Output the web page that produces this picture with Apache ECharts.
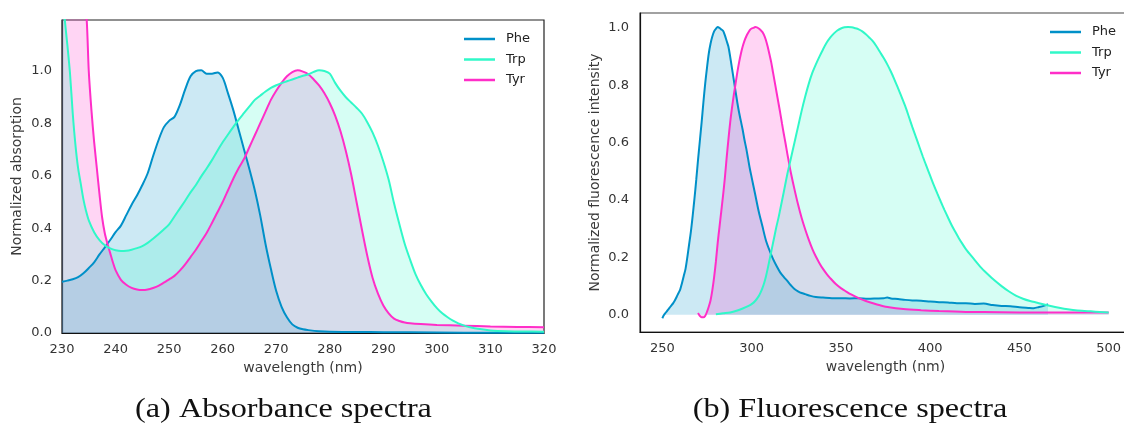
<!DOCTYPE html>
<html>
<head>
<meta charset="utf-8">
<script src="https://cdn.jsdelivr.net/npm/echarts@6/dist/echarts.min.js"></script>
<style>
  html, body { margin: 0; padding: 0; background: #ffffff; overflow: hidden; }
  /* the right panel's frame runs slightly past the page edge */
  #chart { width: 1132px; height: 423px; }
</style>
</head>
<body>
<div id="chart"></div>
<script>
// Amino acid spectra: [wavelength nm, normalized value]
const seriesNames = ['Phe', 'Trp', 'Tyr'];
const seriesColors = { Phe: '#0090c8', Trp: '#30f8c8', Tyr: '#ff2ec8' };

const absTicksX = [230, 240, 250, 260, 270, 280, 290, 300, 310, 320];
const flTicksX = [250, 300, 350, 400, 450, 500];
const yTicks = [0, 0.2, 0.4, 0.6, 0.8, 1.0];

const absPhe = [[230,0.196],[231,0.2],[232,0.205],[233,0.213],[234,0.228],[235,0.248],[236,0.27],[237,0.3],[238,0.327],[239,0.355],[240,0.385],[241,0.41],[242,0.45],[243,0.49],[244,0.525],[245,0.565],[246,0.61],[247,0.675],[248,0.735],[249,0.785],[250,0.81],[251,0.825],[252,0.87],[253,0.93],[254,0.98],[255,1.0],[256,1.003],[257,0.99],[258,0.99],[259,0.995],[260,0.975],[261,0.915],[262,0.85],[263,0.775],[264,0.7],[265,0.625],[266,0.545],[267,0.45],[268,0.34],[269,0.245],[270,0.16],[271,0.1],[272,0.06],[273,0.033],[274,0.02],[275,0.014],[276,0.011],[278,0.007],[280,0.005],[285,0.004],[290,0.003],[300,0.002],[310,0.001],[320,0.001]];

const absTrp = [[230,1.32],[230.5,1.2],[231,1.1],[231.5,0.99],[232,0.84],[232.5,0.72],[233,0.63],[233.5,0.57],[234,0.51],[234.5,0.465],[235,0.43],[236,0.385],[237,0.355],[238,0.335],[239,0.323],[240,0.316],[241,0.313],[242,0.314],[243,0.318],[244,0.324],[245,0.332],[246,0.344],[247,0.36],[248,0.377],[249,0.395],[250,0.415],[251,0.445],[252,0.475],[253,0.505],[254,0.537],[255,0.565],[256,0.598],[257,0.628],[258,0.66],[259,0.695],[260,0.728],[261,0.758],[262,0.787],[263,0.815],[264,0.84],[265,0.865],[266,0.89],[267,0.906],[268,0.922],[269,0.936],[270,0.946],[271,0.954],[272,0.961],[273,0.968],[274,0.975],[275,0.982],[276,0.988],[277,0.997],[278,1.003],[279,1.0],[280,0.99],[281,0.955],[282,0.925],[283,0.9],[284,0.88],[285,0.86],[286,0.838],[287,0.805],[288,0.765],[289,0.715],[290,0.655],[291,0.585],[292,0.495],[293,0.415],[294,0.34],[295,0.28],[296,0.225],[297,0.183],[298,0.148],[299,0.12],[300,0.095],[301,0.075],[302,0.06],[303,0.047],[304,0.037],[305,0.029],[306,0.023],[308,0.015],[310,0.01],[313,0.007],[316,0.006],[320,0.005]];

const absTyr = [[230,2.4],[231,2.1],[232,1.8],[233,1.55],[234,1.32],[234.6,1.2],[235,1.0],[235.5,0.85],[236,0.73],[236.5,0.63],[237,0.53],[237.5,0.44],[238,0.38],[238.5,0.34],[239,0.305],[239.5,0.27],[240,0.24],[241,0.203],[242,0.184],[243,0.172],[244,0.166],[245,0.164],[246,0.166],[247,0.172],[248,0.18],[249,0.192],[250,0.205],[251,0.218],[252,0.238],[253,0.262],[254,0.29],[255,0.318],[256,0.35],[257,0.382],[258,0.42],[259,0.46],[260,0.5],[261,0.545],[262,0.59],[263,0.63],[264,0.665],[265,0.71],[266,0.755],[267,0.8],[268,0.845],[269,0.89],[270,0.925],[271,0.955],[272,0.98],[273,0.996],[274,1.003],[275,0.998],[276,0.988],[277,0.968],[278,0.945],[279,0.915],[280,0.877],[281,0.83],[282,0.77],[283,0.695],[284,0.605],[285,0.5],[286,0.395],[287,0.295],[288,0.21],[289,0.15],[290,0.105],[291,0.075],[292,0.055],[293,0.046],[294,0.04],[295,0.037],[297,0.034],[300,0.031],[305,0.028],[310,0.025],[315,0.023],[320,0.022]];

const flPhe = [[250,-0.012],[251,0.0],[252,0.008],[253,0.016],[254,0.024],[255,0.032],[256,0.04],[257,0.05],[258,0.062],[259,0.075],[260,0.088],[261,0.11],[262,0.135],[263,0.16],[264,0.2],[265,0.245],[266,0.29],[267,0.345],[268,0.405],[269,0.47],[270,0.54],[271,0.605],[272,0.67],[273,0.74],[274,0.805],[275,0.86],[276,0.91],[277,0.945],[278,0.97],[279,0.988],[280,0.997],[281,1.003],[282,1.0],[283,0.995],[284,0.99],[285,0.975],[286,0.955],[287,0.935],[288,0.9],[289,0.86],[290,0.82],[291,0.78],[292,0.74],[293,0.705],[294,0.675],[295,0.645],[296,0.61],[297,0.58],[298,0.545],[299,0.51],[300,0.48],[302,0.42],[304,0.36],[306,0.31],[308,0.26],[310,0.225],[312,0.195],[314,0.17],[316,0.148],[318,0.132],[320,0.118],[322,0.103],[324,0.09],[326,0.082],[328,0.076],[330,0.072],[333,0.066],[336,0.062],[340,0.06],[345,0.058],[350,0.058],[355,0.057],[360,0.058],[365,0.056],[370,0.057],[374,0.058],[376,0.06],[378,0.057],[382,0.055],[386,0.052],[390,0.05],[395,0.049],[400,0.046],[405,0.044],[410,0.043],[415,0.04],[420,0.04],[425,0.038],[430,0.039],[435,0.034],[440,0.031],[445,0.03],[450,0.026],[455,0.024],[458,0.023],[461,0.027],[464,0.032],[466,0.037]];

const flTrp = [[280,0.002],[284,0.005],[288,0.008],[292,0.015],[295,0.022],[298,0.03],[300,0.037],[302,0.048],[304,0.065],[305,0.077],[306,0.092],[307,0.11],[308,0.133],[309,0.16],[310,0.19],[311,0.22],[312,0.25],[313,0.28],[314,0.31],[315,0.336],[316,0.366],[318,0.427],[320,0.49],[322,0.545],[324,0.6],[326,0.655],[328,0.71],[330,0.76],[332,0.805],[334,0.843],[336,0.873],[338,0.9],[340,0.925],[342,0.948],[344,0.966],[346,0.98],[348,0.991],[350,0.998],[352,1.002],[354,1.003],[356,1.002],[358,0.999],[360,0.995],[362,0.988],[364,0.978],[366,0.966],[368,0.953],[370,0.935],[372,0.915],[374,0.895],[376,0.873],[378,0.848],[380,0.82],[382,0.79],[384,0.76],[386,0.728],[388,0.692],[390,0.655],[392,0.62],[394,0.585],[396,0.55],[398,0.517],[400,0.485],[402,0.453],[404,0.423],[406,0.394],[408,0.366],[410,0.339],[412,0.313],[414,0.29],[416,0.268],[418,0.248],[420,0.229],[424,0.198],[428,0.168],[432,0.143],[436,0.12],[440,0.1],[444,0.082],[448,0.067],[452,0.056],[456,0.048],[460,0.042],[465,0.034],[470,0.027],[475,0.021],[480,0.017],[485,0.014],[490,0.012],[495,0.01],[500,0.008]];

const flTyr = [[270,0.006],[271,-0.004],[272,-0.009],[273,-0.009],[274,-0.004],[275,0.01],[276,0.028],[277,0.05],[278,0.085],[279,0.13],[280,0.185],[281,0.25],[282,0.305],[283,0.36],[284,0.415],[285,0.475],[286,0.545],[287,0.61],[288,0.67],[289,0.72],[290,0.765],[291,0.805],[292,0.845],[293,0.88],[294,0.91],[295,0.935],[296,0.955],[297,0.97],[298,0.982],[299,0.992],[300,0.998],[301,1.0],[302,1.003],[303,1.002],[304,0.998],[305,0.993],[306,0.986],[307,0.975],[308,0.958],[309,0.935],[310,0.908],[311,0.88],[312,0.845],[313,0.81],[314,0.775],[315,0.74],[316,0.705],[317,0.668],[318,0.632],[319,0.598],[320,0.562],[321,0.528],[322,0.495],[324,0.438],[326,0.385],[328,0.338],[330,0.298],[332,0.262],[334,0.23],[336,0.203],[338,0.18],[340,0.16],[342,0.143],[344,0.128],[347,0.108],[350,0.093],[353,0.081],[356,0.07],[360,0.058],[364,0.048],[368,0.04],[372,0.033],[377,0.026],[385,0.02],[395,0.016],[405,0.013],[420,0.01],[440,0.009],[460,0.008],[480,0.008],[500,0.008]];

const captions = ['(a) Absorbance spectra', '(b) Fluorescence spectra'];

const sans = 'DejaVu Sans';
const tickColor = '#333333';
const nameColor = '#3a3a3a';

function onTick(list, v) {
  return list.some(t => Math.abs(t - v) < 1e-6);
}

function makeSeries(name, data, axisIdx) {
  const c = seriesColors[name];
  return {
    type: 'line', name: name, data: data,
    xAxisIndex: axisIdx, yAxisIndex: axisIdx,
    showSymbol: false, symbol: 'none', smooth: 0.3,
    clip: true, silent: true,
    lineStyle: { color: c, width: 2 },
    itemStyle: { color: c },
    areaStyle: { color: c, opacity: 0.2 }
  };
}

function legendAt(left, top) {
  return {
    orient: 'vertical', left: left, top: top, padding: 0,
    icon: 'rect', itemWidth: 31, itemHeight: 2.5, itemGap: 6.5,
    selectedMode: false, data: seriesNames,
    textStyle: { fontFamily: sans, fontSize: 13, lineHeight: 14, color: '#222', padding: [0, 0, 0, 6] }
  };
}

function axisBase(gridIndex) {
  return {
    type: 'value', gridIndex: gridIndex,
    axisLine: { show: true, onZero: false, lineStyle: { color: '#111', width: 1.2 } },
    axisTick: { show: false }, splitLine: { show: false },
    nameLocation: 'middle',
    nameTextStyle: { color: nameColor, fontFamily: sans, fontSize: 14 }
  };
}

const option = {
  animation: false,
  backgroundColor: '#ffffff',
  grid: [
    { left: 62, top: 20, width: 482, height: 313, show: true, borderColor: '#222', borderWidth: 1.2, backgroundColor: 'transparent' },
    { left: 640, top: 13, width: 491, height: 319, show: true, borderColor: '#444', borderWidth: 1.2, backgroundColor: 'transparent' }
  ],
  xAxis: [
    Object.assign(axisBase(0), {
      min: 230, max: 320, interval: 10,
      axisLabel: { color: tickColor, fontFamily: sans, fontSize: 13, margin: 10,
        formatter: v => onTick(absTicksX, v) ? String(v) : '' },
      name: 'wavelength (nm)', nameGap: 27
    }),
    Object.assign(axisBase(1), {
      min: 237.5, max: 512.5, splitNumber: 5,
      axisLabel: { color: tickColor, fontFamily: sans, fontSize: 13, margin: 10,
        showMinLabel: false, showMaxLabel: false,
        formatter: v => onTick(flTicksX, v) ? String(v) : '' },
      name: 'wavelength (nm)', nameGap: 28
    })
  ],
  yAxis: [
    Object.assign(axisBase(0), {
      min: 0, max: 1.195, interval: 0.2,
      axisLabel: { color: tickColor, fontFamily: sans, fontSize: 13, margin: 10, showMaxLabel: false,
        formatter: v => onTick(yTicks, v) ? v.toFixed(1) : '' },
      name: 'Normalized absorption', nameGap: 38, nameRotate: 90
    }),
    Object.assign(axisBase(1), {
      min: -0.06, max: 1.052, splitNumber: 5,
      axisLabel: { color: tickColor, fontFamily: sans, fontSize: 13, margin: 11,
        showMinLabel: false, showMaxLabel: false,
        formatter: v => onTick(yTicks, v) ? v.toFixed(1) : '' },
      name: 'Normalized fluorescence intensity', nameGap: 38, nameRotate: 90
    })
  ],
  legend: [legendAt(464, 32), legendAt(1050, 25)],
  // fills stack Phe, then Tyr, then Trp on top
  series: [
    makeSeries('Phe', absPhe, 0),
    makeSeries('Tyr', absTyr, 0),
    makeSeries('Trp', absTrp, 0),
    makeSeries('Phe', flPhe, 1),
    makeSeries('Tyr', flTyr, 1),
    makeSeries('Trp', flTrp, 1)
  ],
  graphic: [
    { type: 'text', x: 283.5, y: 410, scaleX: 1.15, silent: true,
      style: { text: captions[0], fill: '#111', font: '28px "Liberation Serif"', textAlign: 'center', textVerticalAlign: 'middle' } },
    { type: 'text', x: 850, y: 410, scaleX: 1.15, silent: true,
      style: { text: captions[1], fill: '#111', font: '28px "Liberation Serif"', textAlign: 'center', textVerticalAlign: 'middle' } }
  ]
};

const chart = echarts.init(document.getElementById('chart'), null, { renderer: 'canvas' });
chart.setOption(option);
</script>
</body>
</html>
